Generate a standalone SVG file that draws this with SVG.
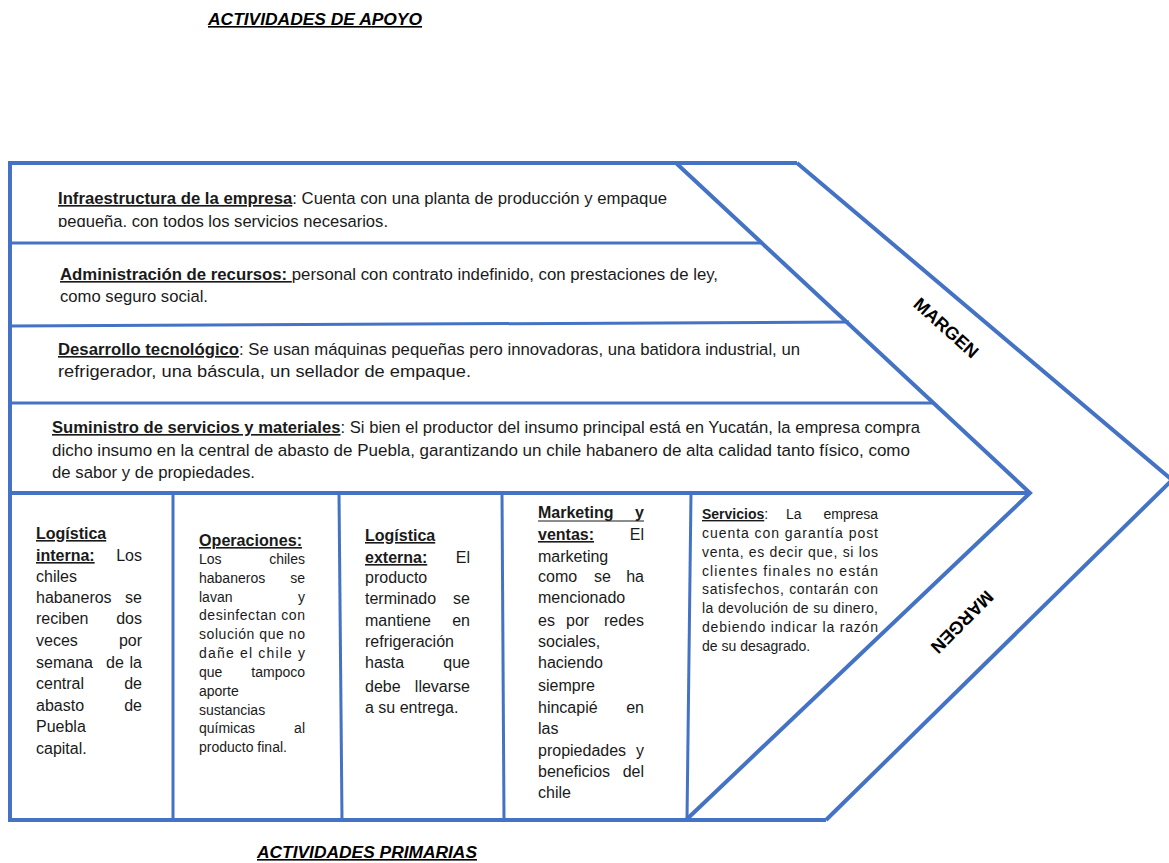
<svg xmlns="http://www.w3.org/2000/svg" width="1169" height="863" viewBox="0 0 1169 863">
<style>
  text { font-family: "Liberation Sans", Arial, sans-serif; fill: #1a1a1a; }
  .row { font-size: 16.3px; }
  .c1 { font-size: 16px; }
  .c2 { font-size: 14px; }
  .b { font-weight: bold; }
  .u { text-decoration: underline; }
  .title { font-size: 16px; font-weight: bold; font-style: italic; text-decoration: underline; fill: #000; }
  .margen { font-size: 18px; font-weight: bold; fill: #000; }
  .e { text-anchor: end; }
  .ln { stroke: #4472C4; stroke-width: 4; fill: none; stroke-linejoin: miter; }
  .thin { stroke: #4472C4; stroke-width: 3; fill: none; }
  .ul { stroke: #1a1a1a; stroke-width: 1.2; }
</style>
<defs>
  <clipPath id="clipInfra"><rect x="10" y="165" width="700" height="62"/></clipPath>
</defs>
<rect x="0" y="0" width="1169" height="863" fill="#fff"/>

<g id="titles">
  <text class="title" x="208" y="25" textLength="214" lengthAdjust="spacingAndGlyphs">ACTIVIDADES DE APOYO</text>
  <text class="title" x="257" y="858" textLength="220" lengthAdjust="spacingAndGlyphs">ACTIVIDADES PRIMARIAS</text>
</g>

<g id="frame">
  <path class="ln" d="M10,163 V820"/>
  <path class="ln" d="M8,163 H797"/>
  <path class="thin" d="M10,243 H763"/>
  <path class="thin" d="M10,326 L849,322"/>
  <path class="thin" d="M10,403 H933"/>
  <path class="ln" d="M10,493 H1030"/>
  <path class="thin" d="M173,493 V820"/>
  <path class="thin" d="M339,493 L342,820"/>
  <path class="thin" d="M502,493 L504,820"/>
  <path class="thin" d="M691,493 L687,820"/>
  <path class="ln" d="M8,820 H826"/>
</g>

<g id="connectors">
  <path class="ln" d="M676,163 L1030,493 L686,820"/>
  <path class="ln" d="M797,163 L1172,480 L826,820"/>
</g>

<g id="infraestructura" clip-path="url(#clipInfra)">
  <text class="row" x="58" y="204" textLength="609" lengthAdjust="spacingAndGlyphs"><tspan class="b u">Infraestructura de la empresa</tspan>: Cuenta con una planta de producción y empaque</text>
  <text class="row" x="58" y="227" textLength="330" lengthAdjust="spacingAndGlyphs">pequeña, con todos los servicios necesarios.</text>
</g>

<g id="administracion">
  <text class="row" x="60" y="280" textLength="658" lengthAdjust="spacingAndGlyphs"><tspan class="b u">Administración de recursos: </tspan> personal con contrato indefinido, con prestaciones de ley,</text>
  <text class="row" x="60" y="302" textLength="148" lengthAdjust="spacingAndGlyphs">como seguro social.</text>
</g>

<g id="desarrollo">
  <text class="row" x="58" y="355" textLength="742" lengthAdjust="spacingAndGlyphs"><tspan class="b u">Desarrollo tecnológico</tspan>: Se usan máquinas pequeñas pero innovadoras, una batidora industrial, un</text>
  <text class="row" x="58" y="377" textLength="413" lengthAdjust="spacingAndGlyphs">refrigerador, una báscula, un sellador de empaque.</text>
</g>

<g id="suministro">
  <text class="row" x="52" y="433" textLength="868" lengthAdjust="spacingAndGlyphs"><tspan class="b u">Suministro de servicios y materiales</tspan>: Si bien el productor del insumo principal está en Yucatán, la empresa compra</text>
  <text class="row" x="52" y="456" textLength="858" lengthAdjust="spacingAndGlyphs">dicho insumo en la central de abasto de Puebla, garantizando un chile habanero de alta calidad tanto físico, como</text>
  <text class="row" x="52" y="478" textLength="203" lengthAdjust="spacingAndGlyphs">de sabor y de propiedades.</text>
</g>

<g id="logistica-interna">
  <text class="c1 b u" x="36" y="539">Logística</text>
  <text class="c1 b u" x="36" y="561">interna:</text>
  <text class="c1 e" x="142" y="561">Los</text>
  <text class="c1" x="36" y="582">chiles</text>
  <text class="c1" x="36" y="603">habaneros</text><text class="c1 e" x="142" y="603">se</text>
  <text class="c1" x="36" y="624">reciben</text><text class="c1 e" x="142" y="624">dos</text>
  <text class="c1" x="36" y="646">veces</text><text class="c1 e" x="142" y="646">por</text>
  <text class="c1" x="36" y="668">semana</text><text class="c1" x="106" y="668">de</text><text class="c1 e" x="142" y="668">la</text>
  <text class="c1" x="36" y="689">central</text><text class="c1 e" x="142" y="689">de</text>
  <text class="c1" x="36" y="711">abasto</text><text class="c1 e" x="142" y="711">de</text>
  <text class="c1" x="36" y="732">Puebla</text>
  <text class="c1" x="36" y="754">capital.</text>
</g>

<g id="operaciones">
  <text class="b u" style="font-size:16px" x="199" y="546" textLength="103" lengthAdjust="spacingAndGlyphs">Operaciones:</text>
  <text class="c2" x="199" y="564">Los</text><text class="c2 e" x="305" y="564">chiles</text>
  <text class="c2" x="199" y="583">habaneros</text><text class="c2 e" x="305" y="583">se</text>
  <text class="c2" x="199" y="602">lavan</text><text class="c2 e" x="305" y="602">y</text>
  <text class="c2" x="199" y="620" textLength="106" lengthAdjust="spacing">desinfectan con</text>
  <text class="c2" x="199" y="639" textLength="106" lengthAdjust="spacing">solución que no</text>
  <text class="c2" x="199" y="658" textLength="106" lengthAdjust="spacing">dañe el chile y</text>
  <text class="c2" x="199" y="677">que</text><text class="c2 e" x="305" y="677">tampoco</text>
  <text class="c2" x="199" y="696">aporte</text>
  <text class="c2" x="199" y="715">sustancias</text>
  <text class="c2" x="199" y="733">químicas</text><text class="c2 e" x="305" y="733">al</text>
  <text class="c2" x="199" y="752">producto final.</text>
</g>

<g id="logistica-externa">
  <text class="c1 b u" x="365" y="541">Logística</text>
  <text class="c1 b u" x="365" y="563">externa:</text>
  <text class="c1 e" x="470" y="563">El</text>
  <text class="c1" x="365" y="583">producto</text>
  <text class="c1" x="365" y="604">terminado</text><text class="c1 e" x="470" y="604">se</text>
  <text class="c1" x="365" y="626">mantiene</text><text class="c1 e" x="470" y="626">en</text>
  <text class="c1" x="365" y="647">refrigeración</text>
  <text class="c1" x="365" y="668">hasta</text><text class="c1 e" x="470" y="668">que</text>
  <text class="c1" x="365" y="692">debe</text><text class="c1 e" x="470" y="692">llevarse</text>
  <text class="c1" x="365" y="713">a su entrega.</text>
</g>

<g id="marketing">
  <text class="c1 b" x="538" y="518">Marketing</text><text class="c1 b e" x="644" y="518">y</text>
  <line class="ul" x1="538" y1="521" x2="644" y2="521"/>
  <text class="c1 b u" x="538" y="540">ventas:</text>
  <text class="c1 e" x="644" y="540">El</text>
  <text class="c1" x="538" y="562">marketing</text>
  <text class="c1" x="538" y="582">como</text><text class="c1" x="594" y="582">se</text><text class="c1 e" x="644" y="582">ha</text>
  <text class="c1" x="538" y="603">mencionado</text>
  <text class="c1" x="538" y="626">es</text><text class="c1" x="566" y="626">por</text><text class="c1 e" x="644" y="626">redes</text>
  <text class="c1" x="538" y="647">sociales,</text>
  <text class="c1" x="538" y="668">haciendo</text>
  <text class="c1" x="538" y="691">siempre</text>
  <text class="c1" x="538" y="713">hincapié</text><text class="c1 e" x="644" y="713">en</text>
  <text class="c1" x="538" y="734">las</text>
  <text class="c1" x="538" y="756">propiedades</text><text class="c1 e" x="644" y="756">y</text>
  <text class="c1" x="538" y="777">beneficios</text><text class="c1 e" x="644" y="777">del</text>
  <text class="c1" x="538" y="798">chile</text>
</g>

<g id="servicios">
  <text class="c2" x="702" y="519"><tspan class="b u">Servicios</tspan>:</text>
  <text class="c2" x="786" y="519">La</text>
  <text class="c2 e" x="878" y="519">empresa</text>
  <text class="c2" x="702" y="538" textLength="176" lengthAdjust="spacing">cuenta con garantía post</text>
  <text class="c2" x="702" y="557" textLength="176" lengthAdjust="spacing">venta, es decir que, si los</text>
  <text class="c2" x="702" y="576" textLength="176" lengthAdjust="spacing">clientes finales no están</text>
  <text class="c2" x="702" y="594" textLength="176" lengthAdjust="spacing">satisfechos, contarán con</text>
  <text class="c2" x="702" y="613" textLength="176" lengthAdjust="spacing">la devolución de su dinero,</text>
  <text class="c2" x="702" y="632" textLength="176" lengthAdjust="spacing">debiendo indicar la razón</text>
  <text class="c2" x="702" y="651">de su desagrado.</text>
</g>

<g id="margen-superior">
  <text class="margen" x="0" y="0" text-anchor="middle" dominant-baseline="central" transform="translate(946,328) rotate(42)">MARGEN</text>
</g>

<g id="margen-inferior">
  <text class="margen" x="0" y="0" text-anchor="middle" dominant-baseline="central" transform="translate(962,622) rotate(135)">MARGEN</text>
</g>
</svg>
